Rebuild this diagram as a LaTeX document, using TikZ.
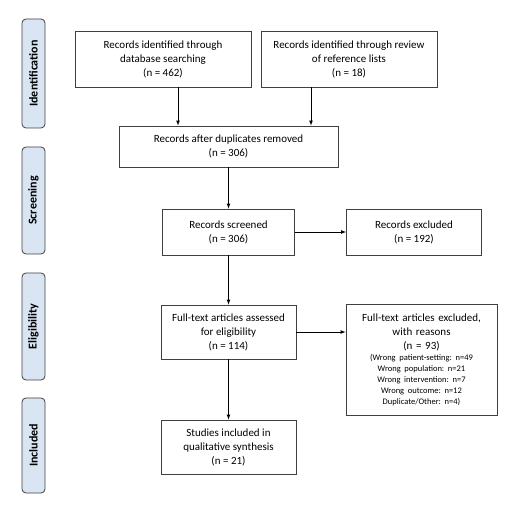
\documentclass[tikz,border=0pt]{standalone}
\usepackage{fontspec}
\setmainfont{Carlito}
\frenchspacing
\usetikzlibrary{positioning, arrows}

\definecolor{tabfill}{HTML}{D9E5F3}
\definecolor{boxline}{HTML}{404040}

\tikzset{
    box/.style={draw=boxline, line width=0.8pt, align=center, inner sep=0pt,
        font=\fontsize{11}{14}\selectfont},
    phase/.style={draw=boxline, line width=0.8pt, fill=tabfill, rounded corners=4pt,
        rotate=90, minimum height=23pt, inner sep=0pt,
        font=\bfseries\fontsize{12}{14}\selectfont},
    arr/.style={->, >=latex, draw=black, line width=0.7pt}
}

\begin{document}
\begin{tikzpicture}[x=1pt, y=1pt, node distance=4cm, on grid]
            \useasboundingbox (0,0) rectangle (520,512);
            % phases
            \node[phase, minimum width=109pt] (ident) at (33.5,438.5) {Identification};
            \node[phase, minimum width=107pt] (screen) at (33.5,311.5) {Screening};
            \node[phase, minimum width=107pt] (elig) at (33.5,185.5) {Eligibility};
            \node[phase, minimum width=95pt] (incl) at (33.5,66.5) {Included};
            % boxes
            \node[box, minimum width=176pt, minimum height=56pt] (db) at (163,453)
                {Records identified through\\database searching\\(n = 462)};
            \node[box, minimum width=176pt, minimum height=56pt] (refs) [right=186pt of db]
                {Records identified through review\\of reference lists\\(n = 18)};
            \node[box, minimum width=219pt, minimum height=41pt] (dup) at (228.5,365.5)
                {Records after duplicates removed\\(n = 306)};
            \node[box, minimum width=132pt, minimum height=46pt] (scr) [below=85.5pt of dup]
                {Records screened\\(n = 306)};
            \node[box, minimum width=135pt, minimum height=46pt] (exc) [right=185.5pt of scr]
                {Records excluded\\(n = 192)};
            \node[box, minimum width=135pt, minimum height=54pt] (full) [below=100pt of scr]
                {Full-text articles assessed\\for eligibility\\(n = 114)};
            \node[box, text width=151pt, minimum height=111pt] (fexc) [below right=27.5pt and 193pt of full]
                {Full-text articles excluded,\\with reasons\\(n = 93)\par
                 {\fontsize{8.5}{11}\selectfont (Wrong patient-setting: n=49\\
                 Wrong population: n=21\\Wrong intervention: n=7\\
                 Wrong outcome: n=12\\Duplicate/Other: n=4)\par}};
            \node[box, minimum width=135pt, minimum height=54pt] (stud) [below=115pt of full]
                {Studies included in\\qualitative synthesis\\(n = 21)};
            % connectors
            \draw[arr] ([xshift=15pt]db.south) -- ([xshift=15pt]db.south |- dup.north);
            \draw[arr] ([xshift=-38pt]refs.south) -- ([xshift=-38pt]refs.south |- dup.north);
            \draw[arr] (dup) -- (scr);
            \draw[arr] (scr) -- (exc);
            \draw[arr] (scr) -- (full);
            \draw[arr] (full.east) -- (full.east -| fexc.west);
            \draw[arr] (full) -- (stud);
        \end{tikzpicture}
\end{document}
